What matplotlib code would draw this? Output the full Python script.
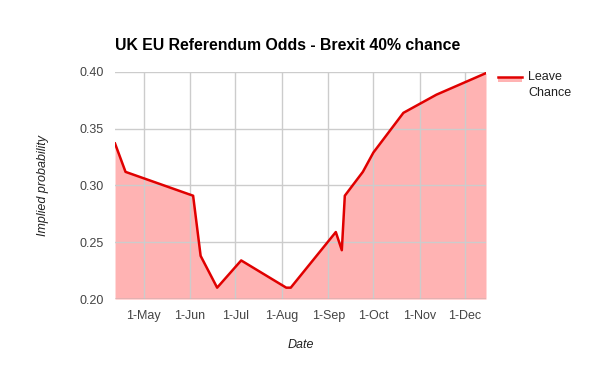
import matplotlib
matplotlib.use("Agg")
import matplotlib.pyplot as plt
import matplotlib.dates as mdates
import numpy as np
import pandas as pd
from matplotlib.lines import Line2D
from matplotlib.patches import Rectangle

dates = [
    "2015-04-12", "2015-04-19", "2015-06-03", "2015-06-08", "2015-06-19",
    "2015-07-05", "2015-08-04", "2015-08-07", "2015-09-06", "2015-09-10",
    "2015-09-12", "2015-09-24", "2015-10-01", "2015-10-21", "2015-11-12",
    "2015-12-15",
]
leave_chance = [
    0.337, 0.312, 0.291, 0.238, 0.210,
    0.234, 0.210, 0.210, 0.259, 0.243,
    0.291, 0.312, 0.329, 0.364, 0.380,
    0.399,
]
y_ticks = [0.20, 0.25, 0.30, 0.35, 0.40]
x_ticks = ["2015-05-01", "2015-06-01", "2015-07-01", "2015-08-01",
           "2015-09-01", "2015-10-01", "2015-11-01", "2015-12-01"]

plt.rcParams["font.family"] = ["Liberation Sans", "DejaVu Sans"]

LINE_RED = "#e00000"
FILL_PINK = "#ffb3b3"

x = pd.to_datetime(dates)
y = np.array(leave_chance)

fig = plt.figure(figsize=(6.0, 3.71), dpi=100)
ax = fig.add_axes([0.1917, 0.194, 0.6183, 0.612])

ax.fill_between(x, 0.20, y, color=FILL_PINK, linewidth=0, zorder=2)
ax.plot(x, y, color=LINE_RED, linewidth=1.8, zorder=3, solid_joinstyle="round")

ax.set_xlim(x[0], x[-1])
ax.set_ylim(0.20, 0.40)
ax.set_yticks(y_ticks)
ax.set_yticklabels([f"{v:.2f}" for v in y_ticks])
ax.set_xticks(pd.to_datetime(x_ticks))
ax.xaxis.set_major_formatter(mdates.DateFormatter("1-%b"))

ax.grid(True, color="#cccccc", linewidth=1.0)
ax.set_axisbelow(False)
for s in ax.spines.values():
    s.set_visible(False)
ax.axhline(0.20, color="#999999", linewidth=1.0, zorder=4)
ax.tick_params(axis="both", length=0, labelsize=9, colors="#444444", pad=8)

ax.set_xlabel("Date", fontstyle="italic", fontsize=9, color="#222222", labelpad=12)
ax.set_ylabel("Implied probability", fontstyle="italic", fontsize=9,
              color="#222222", labelpad=22)

fig.text(0.1917, 0.878, "UK EU Referendum Odds - Brexit 40% chance",
         fontsize=11.4, fontweight="bold", ha="left", va="center")

# legend drawn in figure pixels
W, H = 600, 371
fig.patches.append(Rectangle((498 / W, 1 - 82 / H), 24 / W, 5 / H,
                             transform=fig.transFigure, facecolor=FILL_PINK,
                             edgecolor="none"))
fig.lines.append(Line2D([498 / W, 522 / W], [1 - 77 / H, 1 - 77 / H],
                        transform=fig.transFigure, color=LINE_RED, linewidth=1.8))
fig.text(528 / W, 1 - 77 / H, "Leave", fontsize=9, color="#222222",
         ha="left", va="center")
fig.text(528 / W, 1 - 93 / H, "Chance", fontsize=9, color="#222222",
         ha="left", va="center")

fig.savefig("out.png", dpi=100, facecolor="white")
